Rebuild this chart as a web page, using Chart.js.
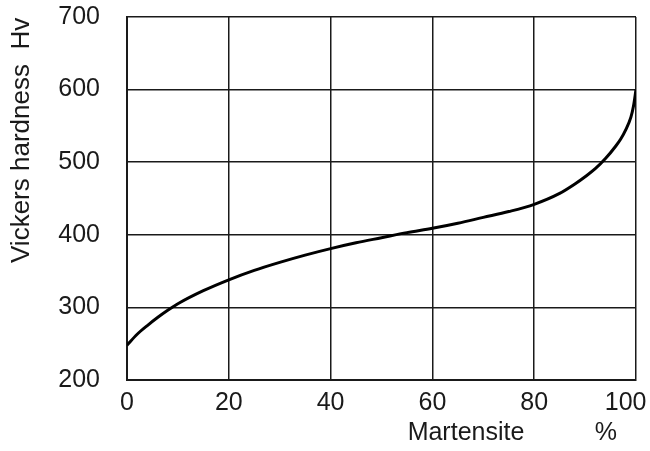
<!DOCTYPE html>
<html>
<head>
<meta charset="utf-8">
<script src="https://cdn.jsdelivr.net/npm/chart.js@4"></script>
<style>
    html, body { margin: 0; padding: 0; background: #fff; }
    #wrap { width: 650px; height: 451px; }
</style>
</head>
<body>
<div id="wrap"><canvas id="hardnessChart" width="650" height="451"></canvas></div>
<script>
// martensite % vs Vickers hardness
const martensite = [0, 2, 4, 6, 8, 10, 15, 20, 25, 30, 35, 40, 45, 50, 55, 60, 65, 70, 75, 80, 85, 88, 90, 92, 94, 96, 97, 98, 99, 99.5, 100];
const hardness = [248, 263, 275, 286, 296, 305, 323, 338, 351, 362, 372, 381, 389, 396, 403, 409, 416, 424, 432, 442, 457, 470, 480, 491, 505, 522, 532, 545, 562, 577, 600];
const xTicks = [0, 20, 40, 60, 80, 100];
const yTicks = [200, 300, 400, 500, 600, 700];

const FONT = "'Liberation Sans', Arial, sans-serif";
const INK = "#1a1a1a";

const axisTitles = {
    id: "axisTitles",
    afterDraw(chart) {
        const { ctx, scales } = chart;
        const x = scales.x, y = scales.y;
        ctx.save();
        ctx.fillStyle = INK;
        ctx.font = `25px ${FONT}`;
        ctx.textAlign = "center";
        ctx.textBaseline = "middle";
        ctx.fillText("Martensite", x.getPixelForValue(66.6), 433);
        ctx.fillText("%", x.getPixelForValue(94.1), 433);
        ctx.font = `26px ${FONT}`;
        ctx.translate(22, y.getPixelForValue(530));
        ctx.rotate(-Math.PI / 2);
        ctx.fillText("Vickers hardness  Hv", 0, 0);
        ctx.restore();
    }
};

function noEdgePadding(s) {
    s.paddingTop = 0;
    s.paddingBottom = 0;
    s.paddingLeft = 0;
    s.paddingRight = 0;
}

new Chart(document.getElementById("hardnessChart"), {
    type: "line",
    data: {
        datasets: [{
            data: martensite.map((m, i) => ({ x: m, y: hardness[i] })),
            borderColor: "#000",
            borderWidth: 3,
            pointRadius: 0,
            cubicInterpolationMode: "monotone",
            fill: false
        }]
    },
    options: {
        responsive: false,
        animation: false,
        layout: { padding: { top: 17, right: 14, left: 0, bottom: 0 } },
        plugins: { legend: { display: false }, tooltip: { enabled: false } },
        scales: {
            x: {
                type: "linear",
                min: 0,
                max: 100,
                afterBuildTicks: s => { s.ticks = xTicks.map(v => ({ value: v })); },
                afterFit: s => { s.height = 71; noEdgePadding(s); },
                grid: { color: INK, lineWidth: 1.5, drawTicks: false },
                border: { color: INK, width: 2 },
                ticks: {
                    color: INK,
                    font: { family: FONT, size: 25 },
                    padding: 8,
                    maxRotation: 0,
                    // last label sits a little left of its gridline, as in the print
                    callback: v => v === 100 ? "100\u00a0\u00a0\u00a0" : String(v)
                }
            },
            y: {
                min: 200,
                max: 700,
                afterBuildTicks: s => { s.ticks = yTicks.map(v => ({ value: v })); },
                afterFit: s => { s.width = 127; noEdgePadding(s); },
                grid: { color: INK, lineWidth: 1.5, drawTicks: false },
                border: { color: INK, width: 2 },
                ticks: { color: INK, font: { family: FONT, size: 25 }, padding: 27 }
            }
        }
    },
    plugins: [axisTitles]
});
</script>
</body>
</html>
